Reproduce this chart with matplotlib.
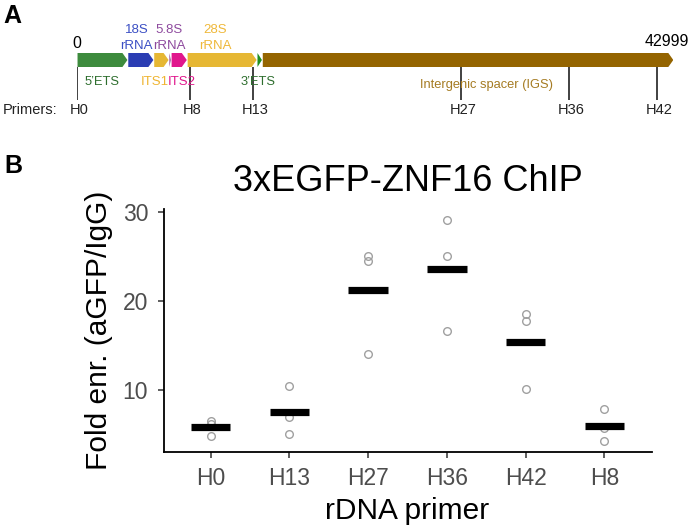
# rDNA map (A) and ZNF16 ChIP-qPCR enrichment (B)
import numpy as np
import matplotlib
matplotlib.use("Agg")
import matplotlib.pyplot as plt

plt.rcParams['font.family'] = ['Liberation Sans', 'DejaVu Sans']

# --- panel A data : rDNA repeat features (bp) ---
seg_names = ["5'ETS", "18S", "ITS1", "5.8S", "ITS2", "28S", "3'ETS", "IGS"]
seg_start = [0, 3657, 5528, 6623, 6780, 7936, 12970, 13351]
seg_end = [3656, 5527, 6622, 6779, 7935, 12969, 13350, 42999]
seg_colors = ["#3d8b3d", "#2b3db3", "#e6b733", "#8b3a8b", "#e0168c", "#e6b733", "#1f8f1f", "#946400"]

primer_names = ["H0", "H8", "H13", "H27", "H36", "H42"]
primer_pos = [0, 8170, 12690, 27700, 35460, 41830]

# --- panel B data : fold enrichment aGFP/IgG, 3 replicates ---
primers = ["H0", "H13", "H27", "H36", "H42", "H8"]
rep1 = [6.5, 10.4, 25.1, 29.1, 18.5, 7.9]
rep2 = [4.8, 7.0, 24.5, 25.1, 17.7, 5.7]
rep3 = [6.2, 5.1, 14.0, 16.6, 10.1, 4.3]

W, H = 693, 528
fig = plt.figure(figsize=(W / 100, H / 100), dpi=100)

# ---------------- panel A ----------------
axA = fig.add_axes([76.7 / W, 1 - 130 / H, 596.6 / W, 130 / H])
axA.set_xlim(0, 42999)
axA.set_ylim(130, 0)
axA.axis('off')

head = 360
for s, e, c in zip(seg_start, seg_end, seg_colors):
    s = s + 60
    h = min(head, e - s)
    axA.fill([s, e - h, e, e - h, s], [53, 53, 60, 67, 67], color=c, lw=0)

# labels above the bar
fs_lab = 9.5
axA.text(4330, 30, "18S", color="#3b4fc4", ha='center', va='center', fontsize=fs_lab)
axA.text(4330, 46, "rRNA", color="#3b4fc4", ha='center', va='center', fontsize=fs_lab)
axA.text(6650, 30, "5.8S", color="#8e4a9e", ha='center', va='center', fontsize=fs_lab)
axA.text(6650, 46, "rRNA", color="#8e4a9e", ha='center', va='center', fontsize=fs_lab)
axA.text(9970, 30, "28S", color="#efb83a", ha='center', va='center', fontsize=fs_lab)
axA.text(9970, 46, "rRNA", color="#efb83a", ha='center', va='center', fontsize=fs_lab)
axA.text(0, 44, "0", ha='center', va='center', fontsize=11.5)
axA.text(42550, 42, "42999", ha='center', va='center', fontsize=11.5)

# labels below the bar
axA.text(1800, 82, "5\u2019ETS", color="#2e6e2e", ha='center', va='center', fontsize=9.3)
axA.text(5640, 82, "ITS1", color="#efb430", ha='center', va='center', fontsize=9.5)
axA.text(7570, 82, "ITS2", color="#e0168c", ha='center', va='center', fontsize=9.5)
axA.text(13070, 82, "3\u2019ETS", color="#2e6e2e", ha='center', va='center', fontsize=9.3)
axA.text(29550, 85, "Intergenic spacer (IGS)", color="#a57b22", ha='center', va='center', fontsize=9.3)

# primer positions
axA.vlines(primer_pos, 67, 100, color="#333333", lw=1.3)
for name, p in zip(primer_names, primer_pos):
    axA.text(p + 180, 110, name, ha='center', va='center', fontsize=10.5, color="#222222")
fig.text(3 / W, 1 - 110 / H, "Primers:", ha='left', va='center', fontsize=10.5, color="#222222")

fig.text(3 / W, 1 - 16 / H, "A", fontsize=18, weight='bold', va='center')
fig.text(4 / W, 1 - 166 / H, "B", fontsize=18, weight='bold', va='center')

# ---------------- panel B ----------------
ax = fig.add_axes([163.5 / W, 1 - 451.7 / H, 488 / W, 242.7 / H])
x = np.arange(len(primers))
reps = np.array([rep1, rep2, rep3])
for r in reps:
    ax.plot(x, r, 'o', mfc='none', mec='#a0a0a0', ms=5.5, mew=1.0, zorder=2)
means = reps.mean(axis=0)
ax.hlines(means, x - 0.25, x + 0.25, color='black', lw=5.2, zorder=3)

ax.set_xlim(-0.6, len(primers) - 0.4)
ax.margins(y=0.05)
ax.set_yticks([10, 20, 30])
ax.set_xticks(x)
ax.set_xticklabels(primers)
for side in ['top', 'right']:
    ax.spines[side].set_visible(False)
for side in ['left', 'bottom']:
    ax.spines[side].set_linewidth(1.3)
ax.tick_params(axis='both', length=4.5, width=1.1, color='#333333',
               labelsize=16.5, labelcolor='#4d4d4d', pad=6.5)
ax.set_title("3xEGFP-ZNF16 ChIP", fontsize=26, pad=13)
ax.set_ylabel("Fold enr. (aGFP/IgG)", fontsize=21.5, labelpad=7)
ax.set_xlabel("rDNA primer", fontsize=21.5, labelpad=5)

fig.savefig("out.png", dpi=100)
